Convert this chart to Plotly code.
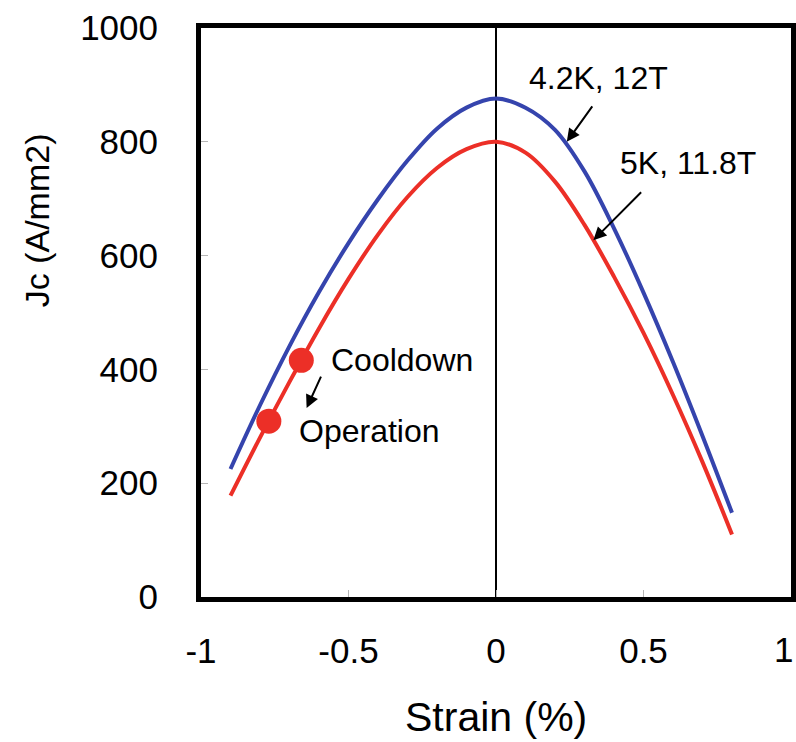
import plotly.graph_objects as go

# ---- data ----
strain = [-0.9, -0.8, -0.7, -0.6, -0.5, -0.4, -0.3, -0.2, -0.1, 0.0,
          0.1, 0.2, 0.3, 0.4, 0.5, 0.6, 0.7, 0.8]
jc_42K_12T = [225, 337, 441, 536, 622, 699, 767, 823, 860, 876,
              860, 821, 748, 648, 535, 413, 283, 148]
jc_5K_118T = [178, 280, 378, 472, 559, 637, 703, 754, 787, 800,
              781, 730, 654, 563, 464, 355, 237, 110]

point_strain = [-0.66, -0.77]
point_jc = [416, 309]
point_names = ["Cooldown", "Operation"]

x_tickvals = [-1, -0.5, 0, 0.5, 1]
x_ticktext = ["-1", "-0.5", "0", "0.5", "1"]
y_tickvals = [0, 200, 400, 600, 800, 1000]
y_ticktext = ["0", "200", "400", "600", "800", "1000"]

BLUE = "#3544ad"
RED = "#ec2f27"
FONT = "Liberation Sans, Arial, sans-serif"
TICKFONT = dict(family=FONT, size=35, color="black")

fig = go.Figure()
fig.add_trace(go.Scatter(x=strain, y=jc_42K_12T, mode="lines",
                         line=dict(color=BLUE, width=4, shape="spline", smoothing=1.0),
                         name="4.2K, 12T"))
fig.add_trace(go.Scatter(x=strain, y=jc_5K_118T, mode="lines",
                         line=dict(color=RED, width=4, shape="spline", smoothing=1.0),
                         name="5K, 11.8T"))
fig.add_trace(go.Scatter(x=point_strain, y=point_jc, mode="markers",
                         marker=dict(color=RED, size=25),
                         text=point_names))

arrow = dict(showarrow=True, arrowhead=2, arrowsize=1.3, arrowwidth=2,
             arrowcolor="black", axref="x", ayref="y", text="")
fig.add_annotation(x=0.24, y=800, ax=0.33, ay=865, **arrow)
fig.add_annotation(x=0.33, y=627, ax=0.497, ay=714, **arrow)
fig.add_annotation(x=-0.642, y=332, ax=-0.591, ay=390, **arrow)

txt = dict(showarrow=False, font=dict(family=FONT, size=32, color="black"))
fig.add_annotation(x=0.349, y=912, text="4.2K, 12T", xanchor="center", **txt)
fig.add_annotation(x=0.652, y=763, text="5K, 11.8T", xanchor="center", **txt)
fig.add_annotation(x=-0.565, y=417, text="Cooldown", xanchor="left", **txt)
fig.add_annotation(x=-0.675, y=292, text="Operation", xanchor="left", **txt)

# axis titles
fig.add_annotation(xref="paper", yref="paper", x=-0.278, y=0.662,
                   xanchor="center", yanchor="middle",
                   text="Jc (A/mm2)", textangle=-90, showarrow=False,
                   font=dict(family=FONT, size=34, color="black"))
fig.add_annotation(xref="paper", yref="paper", x=0.5, y=-0.211,
                   xanchor="center", yanchor="middle",
                   text="Strain (%)", showarrow=False,
                   font=dict(family=FONT, size=41, color="black"))

# the last x tick label sits on the page edge; plotly hides it, so draw it as text
fig.add_annotation(x=x_tickvals[-1], xref="x", yref="paper", y=-0.093,
                   xanchor="right", yanchor="middle", text=x_ticktext[-1],
                   xshift=4, showarrow=False, font=TICKFONT)

fig.update_xaxes(range=[-1, 1], tickvals=x_tickvals, ticktext=x_ticktext,
                 automargin=False,
                 showgrid=False, zeroline=True, zerolinecolor="black", zerolinewidth=1.5,
                 showline=True, linecolor="black", linewidth=5, mirror=True,
                 ticks="inside", ticklen=7, tickcolor="#b5b5b5", tickwidth=1,
                 ticklabelstandoff=19,
                 tickfont=TICKFONT)
fig.update_yaxes(range=[0, 1000], tickvals=y_tickvals, ticktext=y_ticktext,
                 automargin=False,
                 showgrid=False, zeroline=False,
                 showline=True, linecolor="black", linewidth=5, mirror=True,
                 ticks="inside", ticklen=7, tickcolor="#b5b5b5", tickwidth=1,
                 ticklabelstandoff=31,
                 tickfont=TICKFONT)

fig.update_layout(width=796, height=742, showlegend=False,
                  margin=dict(l=201, r=5, t=28, b=145),
                  plot_bgcolor="white", paper_bgcolor="white")

fig.write_html("out.html")
